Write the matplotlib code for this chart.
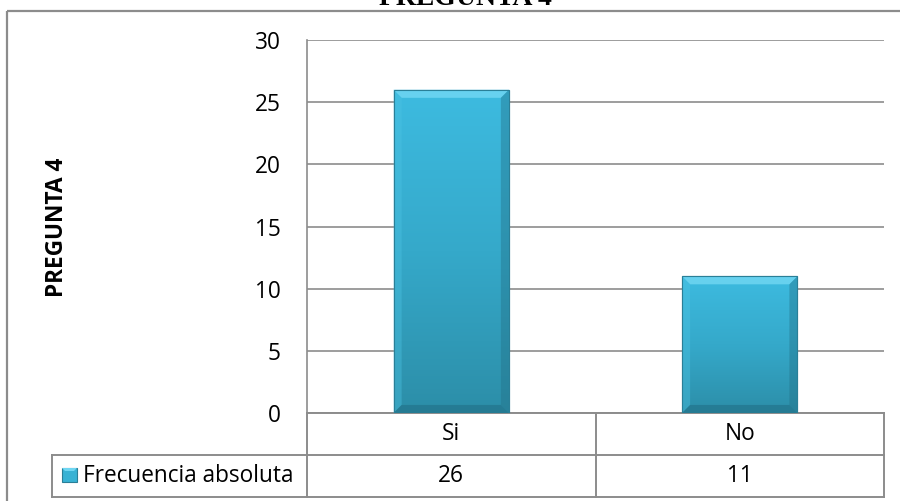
import numpy as np
import matplotlib.pyplot as plt
from matplotlib.patches import Rectangle, Polygon
from matplotlib.colors import LinearSegmentedColormap

# datos del grafico
categorias = ['Si', 'No']
frecuencia = [26, 11]
serie = 'Frecuencia absoluta'
titulo = 'PREGUNTA 4'
yticks = [0, 5, 10, 15, 20, 25, 30]

plt.rcParams['font.family'] = ['Open Sans', 'DejaVu Sans']
W, H = 900, 501
FS = 16.3
GRIS = '#8c8c8c'

fig = plt.figure(figsize=(9, 5.01), dpi=100)

# capa de fondo en coordenadas de pixel
bg = fig.add_axes([0, 0, 1, 1])
bg.set_xlim(0, W)
bg.set_ylim(H, 0)
bg.axis('off')

bg.add_patch(Rectangle((7, 11), 1000, 1000, fill=False, ec=GRIS, lw=1.6))
bg.text(465, 5, titulo, family='Liberation Serif', weight='bold', fontsize=20,
        ha='center', va='baseline')
bg.text(57, 227, titulo, rotation=90, weight='bold', fontsize=16.3,
        ha='center', va='center')

# area del grafico
left, right, top, bottom = 307, 884, 40, 413
ax = fig.add_axes([left / W, (H - bottom) / H, (right - left) / W, (bottom - top) / H])
ax.set_xlim(-0.5, len(categorias) - 0.5)
ax.set_ylim(yticks[0], yticks[-1])
ax.set_yticks(yticks)
ax.set_xticks([])
ax.tick_params(axis='y', length=0, pad=19, labelsize=FS)
ax.yaxis.grid(True, color=GRIS, lw=1.2)
ax.set_axisbelow(True)
for s in ['top', 'right', 'bottom']:
    ax.spines[s].set_visible(False)
ax.spines['left'].set_color(GRIS)
ax.spines['left'].set_linewidth(1.2)
ax.patch.set_alpha(0)

cmap = LinearSegmentedColormap.from_list('azul', ['#2c8ea8', '#35a9ca', '#3dbbe0'])
grad = np.linspace(0, 1, 256).reshape(-1, 1)
bw = 0.4
bx = 0.028  # bisel horizontal en unidades de datos
by = 0.65   # bisel vertical
x = np.arange(len(categorias))
bars = ax.bar(x, frecuencia, width=bw, color='#38b2d4', edgecolor='#2a7f97', lw=0.8, zorder=2)
for b, xi, v in zip(bars, x, frecuencia):
    x0, x1 = xi - bw / 2, xi + bw / 2
    im = ax.imshow(grad, cmap=cmap, origin='lower', aspect='auto',
                   extent=[x0, x1, 0, v], zorder=2.1)
    im.set_clip_path(b)
    ax.add_patch(Polygon([(x0, v), (x1, v), (x1 - bx, v - by), (x0 + bx, v - by)],
                         closed=True, fc='#6fd6f2', ec='none', alpha=0.85, zorder=2.2))
    ax.add_patch(Polygon([(x0, v), (x0 + bx, v - by), (x0 + bx, by), (x0, 0)],
                         closed=True, fc='#4cc3e3', ec='none', alpha=0.4, zorder=2.2))
    ax.add_patch(Polygon([(x1, v), (x1 - bx, v - by), (x1 - bx, by), (x1, 0)],
                         closed=True, fc='#226f85', ec='none', alpha=0.4, zorder=2.2))
    ax.add_patch(Polygon([(x0, 0), (x1, 0), (x1 - bx, by), (x0 + bx, by)],
                         closed=True, fc='#1f6a80', ec='none', alpha=0.5, zorder=2.2))
    ax.add_patch(Rectangle((x0, 0), bw, v, fill=False, ec='#2a7f97', lw=0.8, zorder=2.3))

# tabla de datos
r0, r1, r2 = 413, 455, 497
hx = 52
col = (right - left) / len(categorias)
tk = dict(color=GRIS, lw=1.4)
bg.plot([left, right], [r0, r0], **tk)
bg.plot([hx, right], [r1, r1], **tk)
bg.plot([hx, right], [r2, r2], **tk)
bg.plot([hx, hx], [r1, r2], **tk)
for i in range(len(categorias) + 1):
    xc = left + i * col
    bg.plot([xc, xc], [r0, r2], **tk)
for i, (c, v) in enumerate(zip(categorias, frecuencia)):
    cx = left + (i + 0.5) * col
    bg.text(cx, (r0 + r1) / 2, c, fontsize=FS, ha='center', va='center')
    bg.text(cx, (r1 + r2) / 2, str(v), fontsize=FS, ha='center', va='center')

bg.add_patch(Rectangle((62, 468), 15, 14, fc='#38b2d4', ec='#2a7f97', lw=0.8))
bg.add_patch(Polygon([(62, 468), (77, 468), (74, 471), (65, 471)], closed=True,
                     fc='#6fd6f2', ec='none'))
bg.text(83, (r1 + r2) / 2, serie, fontsize=FS, ha='left', va='center')

fig.savefig('out.png', dpi=100)
